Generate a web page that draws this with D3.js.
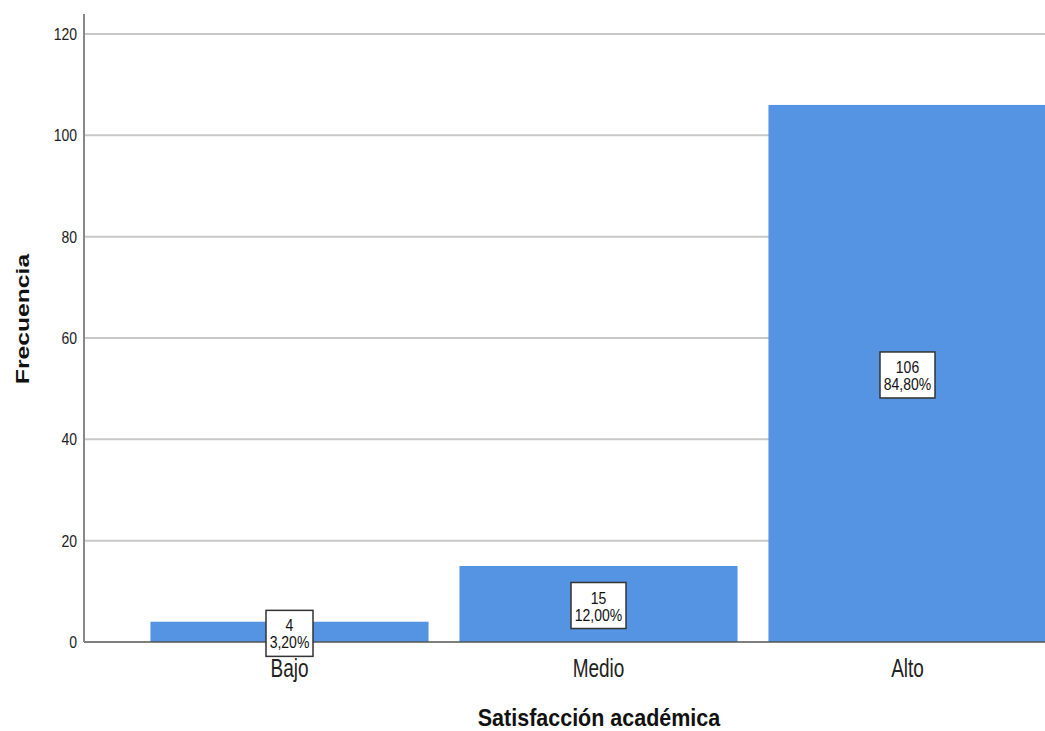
<!DOCTYPE html>
<html lang="es">
<head>
  <meta charset="UTF-8">
  <title>Satisfacción académica</title>
  <script src="https://d3js.org/d3.v7.min.js"></script>
  <style>
    body { margin: 0; background: #fff; font-family: "Liberation Sans", Arial, sans-serif; }
  </style>
</head>
<body>
<div id="chart"></div>
<script>
  const categories = ["Bajo", "Medio", "Alto"];
  const counts = [4, 15, 106];
  const percents = ["3,20%", "12,00%", "84,80%"];
  const yTicks = [0, 20, 40, 60, 80, 100, 120];

  const width = 1045, height = 731;
  const svg = d3.select("#chart").append("svg")
    .attr("width", width).attr("height", height);

  const x0 = 84, y0 = 642;
  const y = d3.scaleLinear().domain([0, 120]).range([y0, 34]);
  const x = d3.scaleBand().domain(categories)
    .range([135, 1062]).paddingInner(0.1).paddingOuter(0.05);

  // gridlines
  svg.append("g").selectAll("line").data(yTicks.filter(d => d > 0)).join("line")
    .attr("x1", x0).attr("x2", width)
    .attr("y1", d => y(d)).attr("y2", d => y(d))
    .attr("stroke", "#c8c8c8").attr("stroke-width", 2);

  // bars
  svg.append("g").selectAll("rect").data(categories).join("rect")
    .attr("x", d => x(d)).attr("width", x.bandwidth())
    .attr("y", (d, i) => y(counts[i]))
    .attr("height", (d, i) => y(0) - y(counts[i]))
    .attr("fill", "#5494e3");

  // baseline and y axis line
  svg.append("line").attr("x1", x0).attr("x2", width).attr("y1", y0).attr("y2", y0)
    .attr("stroke", "#555").attr("stroke-width", 1.5);
  svg.append("line").attr("x1", x0).attr("x2", x0).attr("y1", 14).attr("y2", y0)
    .attr("stroke", "#888").attr("stroke-width", 2);

  // y tick labels (the source render is a bit stretched vertically)
  svg.append("g").selectAll("text").data(yTicks).join("text")
    .attr("transform", d => `translate(${x0 - 7},${y(d) + 6}) scale(1,1.22)`)
    .attr("text-anchor", "end").attr("font-size", 14).attr("fill", "#222")
    .text(d => d);

  // category labels
  svg.append("g").selectAll("text").data(categories).join("text")
    .attr("transform", d => `translate(${x(d) + x.bandwidth() / 2},677) scale(1,1.4)`)
    .attr("text-anchor", "middle").attr("font-size", 19).attr("fill", "#222")
    .text(d => d);

  // value boxes
  const boxes = svg.append("g").selectAll("g").data(categories).join("g")
    .attr("transform", (d, i) => `translate(${x(d) + x.bandwidth() / 2},${y(counts[i] / 2) + 1.5})`);
  boxes.append("rect")
    .attr("x", (d, i) => percents[i].length > 5 ? -27.5 : -23.5)
    .attr("width", (d, i) => percents[i].length > 5 ? 55 : 47)
    .attr("y", -23).attr("height", 46)
    .attr("fill", "#fff").attr("stroke", "#333").attr("stroke-width", 1.5);
  boxes.append("text").attr("text-anchor", "middle")
    .attr("transform", "translate(0,-2) scale(1,1.15)")
    .attr("font-size", 14).attr("fill", "#111").text((d, i) => counts[i]);
  boxes.append("text").attr("text-anchor", "middle")
    .attr("transform", "translate(0,15) scale(1,1.15)")
    .attr("font-size", 14).attr("fill", "#111").text((d, i) => percents[i]);

  // axis titles
  svg.append("text").attr("transform", "translate(599,726) scale(1,1.07)")
    .attr("text-anchor", "middle").attr("font-size", 21.5).attr("font-weight", "bold")
    .attr("fill", "#111").text("Satisfacción académica");
  svg.append("text").attr("transform", "translate(29,319) rotate(-90) scale(1.3,1)")
    .attr("text-anchor", "middle").attr("font-size", 19).attr("font-weight", "bold")
    .attr("fill", "#111").text("Frecuencia");
</script>
</body>
</html>
